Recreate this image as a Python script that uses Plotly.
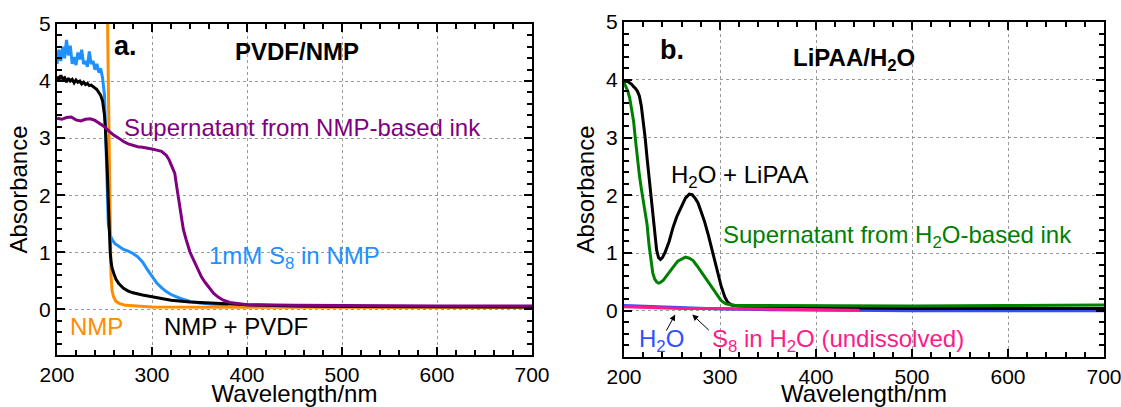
import plotly.graph_objects as go

# ---------------- Panel a (PVDF/NMP) ----------------
wl_s8_nmp = [200, 202, 204, 206, 208, 210, 212, 214, 216, 218, 220, 222, 224, 226, 228, 230, 232, 234,
             236, 238, 240, 242, 244, 246, 248, 250, 251, 252, 253, 254, 256, 258, 261, 265, 270, 275,
             280, 285, 290, 295, 300, 305, 310, 315, 320, 330, 340, 350, 365, 380]
abs_s8_nmp = [4.30, 4.55, 4.35, 4.60, 4.40, 4.72, 4.45, 4.62, 4.30, 4.42, 4.28, 4.50, 4.38, 4.55, 4.30,
              4.35, 4.25, 4.52, 4.30, 4.35, 4.20, 4.30, 4.15, 4.22, 4.05, 3.75, 3.20, 2.60, 2.00, 1.50,
              1.30, 1.22, 1.15, 1.10, 1.05, 1.02, 0.98, 0.92, 0.83, 0.70, 0.57, 0.46, 0.38, 0.31, 0.26,
              0.19, 0.14, 0.11, 0.09, 0.08]

wl_nmp = [252.5, 253.3, 254, 254.7, 255.3, 256, 256.8, 258, 259.5, 262, 266, 272, 285, 300, 400, 500, 700]
abs_nmp = [5.5, 5.0, 4.0, 3.0, 2.0, 1.2, 0.6, 0.33, 0.22, 0.14, 0.10, 0.07, 0.05, 0.04, 0.035, 0.03, 0.03]

wl_nmp_pvdf = [200, 202, 204, 206, 208, 210, 212, 214, 216, 218, 220, 222, 224, 226, 228, 230, 232, 234,
               236, 238, 240, 242, 244, 246, 248, 249, 250, 251, 252, 253, 254, 255, 256, 257, 258, 260,
               262, 265, 270, 275, 280, 290, 300, 310, 320, 340, 360, 380, 400, 450, 500, 600, 700]
abs_nmp_pvdf = [4.08, 4.02, 4.10, 4.04, 4.06, 3.98, 4.05, 4.00, 4.03, 3.97, 4.02, 3.98, 4.00, 3.95, 3.98,
                3.94, 3.96, 3.92, 3.93, 3.90, 3.88, 3.85, 3.80, 3.75, 3.65, 3.55, 3.40, 3.15, 2.85, 2.40,
                1.90, 1.40, 1.00, 0.82, 0.72, 0.62, 0.53, 0.45, 0.37, 0.32, 0.29, 0.25, 0.22, 0.19, 0.16,
                0.13, 0.11, 0.09, 0.08, 0.06, 0.05, 0.045, 0.04]

wl_super_nmp = [200, 205, 210, 215, 220, 225, 230, 235, 240, 245, 250, 255, 260, 265, 270, 275, 280, 285,
                290, 295, 300, 305, 310, 315, 318, 321, 324, 326, 328, 330, 333, 336, 340, 344, 348, 352,
                356, 360, 365, 370, 375, 382, 390, 400, 450, 500, 600, 700]
abs_super_nmp = [3.35, 3.33, 3.36, 3.37, 3.32, 3.30, 3.33, 3.34, 3.31, 3.26, 3.20, 3.12, 3.05, 3.00, 2.94,
                 2.90, 2.87, 2.85, 2.84, 2.83, 2.81, 2.79, 2.77, 2.70, 2.62, 2.50, 2.38, 2.15, 1.95, 1.70,
                 1.40, 1.22, 1.00, 0.86, 0.70, 0.57, 0.47, 0.38, 0.28, 0.21, 0.16, 0.12, 0.10, 0.08, 0.07,
                 0.065, 0.06, 0.06]

# ---------------- Panel b (LiPAA/H2O) ----------------
wl_h2o = [200, 230, 260, 300, 350, 400, 500, 700]
abs_h2o = [0.09, 0.07, 0.05, 0.03, 0.02, 0.01, 0.0, 0.0]

wl_s8_h2o = [200, 230, 260, 300, 360, 400, 445]
abs_s8_h2o = [0.07, 0.05, 0.04, 0.04, 0.03, 0.015, 0.01]

wl_h2o_lipaa = [200, 202, 204, 206, 208, 210, 212, 214, 216, 218, 220, 222, 224, 226, 228, 230, 232, 234,
                236, 238, 240, 243, 247, 251, 255, 260, 264, 268, 271, 274, 277, 280, 284, 288, 291, 295,
                298, 301, 305, 308, 312, 318, 325, 350, 400, 500, 600, 700]
abs_h2o_lipaa = [3.95, 3.98, 3.97, 3.95, 3.92, 3.88, 3.85, 3.80, 3.72, 3.55, 3.30, 3.00, 2.65, 2.35, 2.00,
                 1.65, 1.35, 1.05, 0.92, 0.89, 0.92, 1.02, 1.20, 1.44, 1.63, 1.82, 1.95, 2.02, 2.01, 1.95,
                 1.87, 1.73, 1.54, 1.30, 1.09, 0.82, 0.62, 0.44, 0.24, 0.15, 0.10, 0.08, 0.07, 0.06, 0.05,
                 0.04, 0.04, 0.04]

wl_super_h2o = [200, 202, 204, 206, 208, 210, 212, 214, 216, 218, 220, 222, 224, 226, 228, 230, 232, 234,
                236, 238, 241, 246, 251, 256, 260, 264, 268, 272, 276, 281, 286, 291, 296, 301, 306, 311,
                316, 330, 400, 500, 600, 700]
abs_super_h2o = [3.95, 3.88, 3.80, 3.68, 3.50, 3.28, 2.95, 2.60, 2.35, 2.12, 1.92, 1.70, 1.50, 1.15, 0.85,
                 0.65, 0.55, 0.50, 0.48, 0.49, 0.53, 0.63, 0.75, 0.86, 0.90, 0.93, 0.91, 0.87, 0.78, 0.66,
                 0.53, 0.40, 0.28, 0.18, 0.12, 0.10, 0.09, 0.09, 0.085, 0.085, 0.09, 0.10]

x_ticks = [200, 300, 400, 500, 600, 700]
y_ticks = [0, 1, 2, 3, 4, 5]

FONT = "Liberation Sans, Arial, sans-serif"
W, H = 1121, 407


def px_dom_x(a, b):
    return [a / W, b / W]


def px_dom_y(top, bottom):
    return [1 - bottom / H, 1 - top / H]


fig = go.Figure()

LW = 3
# panel a traces
fig.add_trace(go.Scatter(x=wl_s8_nmp, y=abs_s8_nmp, mode="lines", line=dict(color="#1e90ff", width=LW),
                         xaxis="x", yaxis="y", name="1mM S8 in NMP"))
fig.add_trace(go.Scatter(x=wl_nmp, y=abs_nmp, mode="lines", line=dict(color="#ff8c00", width=LW),
                         xaxis="x", yaxis="y", name="NMP"))
fig.add_trace(go.Scatter(x=wl_nmp_pvdf, y=abs_nmp_pvdf, mode="lines", line=dict(color="#000000", width=LW),
                         xaxis="x", yaxis="y", name="NMP + PVDF"))
fig.add_trace(go.Scatter(x=wl_super_nmp, y=abs_super_nmp, mode="lines", line=dict(color="#800080", width=LW),
                         xaxis="x", yaxis="y", name="Supernatant from NMP-based ink"))
# panel b traces
fig.add_trace(go.Scatter(x=wl_h2o, y=abs_h2o, mode="lines", line=dict(color="#2f4fff", width=LW),
                         xaxis="x2", yaxis="y2", name="H2O"))
fig.add_trace(go.Scatter(x=wl_h2o_lipaa, y=abs_h2o_lipaa, mode="lines", line=dict(color="#000000", width=LW),
                         xaxis="x2", yaxis="y2", name="H2O + LiPAA"))
fig.add_trace(go.Scatter(x=wl_super_h2o, y=abs_super_h2o, mode="lines", line=dict(color="#008000", width=LW),
                         xaxis="x2", yaxis="y2", name="Supernatant from H2O-based ink"))
fig.add_trace(go.Scatter(x=wl_s8_h2o, y=abs_s8_h2o, mode="lines", line=dict(color="#ff1a8c", width=LW),
                         xaxis="x2", yaxis="y2", name="S8 in H2O"))

axis_common = dict(
    showline=True, linecolor="black", linewidth=2, mirror="allticks",
    ticks="inside", ticklen=8, tickwidth=2, tickcolor="black",
    showgrid=True, gridcolor="#9a9a9a", griddash="dot", gridwidth=1,
    zeroline=False, tickfont=dict(family=FONT, size=21, color="black"),
    automargin=False, ticklabeloverflow="allow",
)

xcommon = dict(axis_common, range=[200, 700], tickmode="array", tickvals=x_ticks,
               minor=dict(ticks="inside", ticklen=5, tickwidth=1.5, tickcolor="black", dtick=20, showgrid=False),
               title=dict(text="Wavelength/nm", font=dict(family=FONT, size=24, color="black"), standoff=4))
ycommon = dict(axis_common, range=[-0.8, 5], tickmode="array", tickvals=y_ticks,
               minor=dict(ticks="inside", ticklen=5, tickwidth=1.5, tickcolor="black", dtick=0.2, showgrid=False),
               title=dict(text="Absorbance", font=dict(family=FONT, size=24, color="black"), standoff=5))

fig.update_layout(
    width=W, height=H,
    margin=dict(l=0, r=0, t=0, b=0),
    paper_bgcolor="white", plot_bgcolor="white",
    showlegend=False,
    font=dict(family=FONT, color="black"),
    xaxis=dict(xcommon, domain=px_dom_x(57, 532), anchor="y"),
    yaxis=dict(ycommon, domain=px_dom_y(24, 355), anchor="x"),
    xaxis2=dict(xcommon, domain=px_dom_x(624, 1104), anchor="y2"),
    yaxis2=dict(ycommon, domain=px_dom_y(22, 357), anchor="x2"),
)


def label(text, x, y, color, size=24, bold=False, axis="", xanchor="left"):
    t = f"<b>{text}</b>" if bold else text
    fig.add_annotation(text=t, x=x, y=y, xref="x" + axis, yref="y" + axis, showarrow=False,
                       xanchor=xanchor, yanchor="middle",
                       font=dict(family=FONT, size=size, color=color))


# panel a labels
label("a.", 258, 4.62, "black", size=27, bold=True)
label("PVDF/NMP", 452.6, 4.52, "black", size=24, bold=True, xanchor="center")
label("Supernatant from NMP-based ink", 268.4, 3.19, "#800080")
label("1mM S<sub>8</sub> in NMP", 357.9, 0.90, "#1e90ff")
label("NMP", 211.6, -0.30, "#ff8c00")
label("NMP + PVDF", 311, -0.30, "black")

# panel b labels
label("b.", 235.4, 4.52, "black", size=27, bold=True, axis="2")
label("LiPAA/H<sub>2</sub>O", 439.8, 4.35, "black", size=24, bold=True, axis="2", xanchor="center")
label("H<sub>2</sub>O + LiPAA", 247, 2.33, "black", axis="2")
label("Supernatant from H<sub>2</sub>O-based ink", 301, 1.29, "#008000", axis="2")
label("H<sub>2</sub>O", 213.5, -0.52, "#2f4fff", axis="2")
label("S<sub>8</sub> in H<sub>2</sub>O (undissolved)", 289.6, -0.51, "#ff1a8c", axis="2")

# arrows (head at line, tail at label)
for hx, hy, tx, ty in [(253.3, -0.066, 243.2, -0.37), (271.2, -0.066, 289.9, -0.36)]:
    fig.add_annotation(x=hx, y=hy, ax=tx, ay=ty, xref="x2", yref="y2", axref="x2", ayref="y2",
                       showarrow=True, arrowhead=2, arrowsize=1.2, arrowwidth=1, arrowcolor="black", text="")

fig.write_html("out.html", config={"displayModeBar": False},
               post_script="document.body.style.margin='0';document.body.style.overflow='hidden';")
